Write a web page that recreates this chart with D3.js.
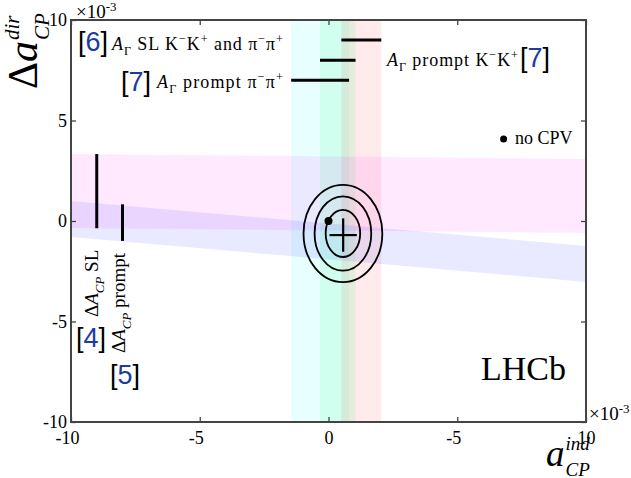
<!DOCTYPE html>
<html>
<head>
<meta charset="utf-8">
<script src="https://cdn.jsdelivr.net/npm/d3@7"></script>
<style>
  body { margin: 0; background: #fff; }
  text { font-family: 'Liberation Serif', 'Times New Roman', serif; fill: #000; }
</style>
</head>
<body>
<script>
// axis ticks (the reference labels +5 as "-5" on the x axis)
var xTicks = [-10, -5, 0, 5, 10];
var xTickLabels = ["-10", "-5", "0", "-5", "10"];
var yTicks = [-10, -5, 0, 5, 10];
var yTickLabels = ["-10", "-5", "0", "5", "10"];

// A_Gamma measurements: vertical bands in a_ind, line drawn at height agY
var agLo = [-1.45, -0.33, 0.50];
var agHi = [0.80, 1.05, 2.05];
var agY = [7, 8, 9];
var agColor = ["#00ffff", "#00ff60", "#ff2020"];
var agAlpha = [0.09, 0.1, 0.09];

// Delta A_CP measurements: bands at x=-10 and x=10 (SL, prompt)
var dLoLeft = [-0.35, -0.79];
var dHiLeft = [3.33, 0.99];
var dLoRight = [-0.60, -3.03];
var dHiRight = [3.08, -1.24];
var dColor = ["#ff00ff", "#4040ff"];
var dAlpha = [0.085, 0.115];
var dLineX = [-9, -8];
var dLineLo = [-0.36, -0.99];
var dLineHi = [3.33, 0.83];

// combined fit: contours and best fit point
var ellCx = 0.56, ellCy = -0.62;
var ellRx = [0.67, 1.10, 1.53];
var ellRy = [1.17, 1.85, 2.42];
var fitX = 0.57, fitY = -0.70, fitEx = 0.53, fitEy = 0.83;
var noCpv = [0, 0];
var legendDot = [6.8, 4.08];

var width = 631, height = 478;
var mLeft = 71, mRight = 586, mTop = 20, mBottom = 422;

var svg = d3.select("body").append("svg")
    .attr("width", width)
    .attr("height", height);

var x = d3.scaleLinear().domain([-10, 10]).range([mLeft, mRight]);
var y = d3.scaleLinear().domain([-10, 10]).range([mBottom, mTop]);

/* sub/superscript helper */
function rich(sel, parts, size) {
    var shift = 0;
    parts.forEach(function (p) {
        var k = p[1] || "";
        var target = 0, fs = size;
        if (k.indexOf("sub") === 0) { target = size * 0.3; fs = size * 0.68; }
        if (k.indexOf("sup") === 0) { target = -size * 0.38; fs = size * 0.68; }
        sel.append("tspan")
            .attr("dy", target - shift)
            .attr("font-size", fs)
            .attr("font-style", k.slice(-1) === "i" ? "italic" : null)
            .text(p[0]);
        shift = target;
    });
    return sel;
}

function refLabel(px, py, num) {
    var t = svg.append("text")
        .attr("x", px).attr("y", py)
        .style("font-family", "'Liberation Sans', Arial, sans-serif")
        .attr("font-size", 27);
    t.append("tspan").text("[");
    t.append("tspan").style("fill", "#1a3d9e").text(num);
    t.append("tspan").text("]");
}

/* vertical bands */
svg.selectAll(".agband")
    .data(agLo)
    .enter().append("rect")
    .attr("class", "agband")
    .attr("x", function (d) { return x(d); })
    .attr("width", function (d, i) { return x(agHi[i]) - x(d); })
    .attr("y", mTop)
    .attr("height", mBottom - mTop)
    .attr("fill", function (d, i) { return agColor[i]; })
    .attr("fill-opacity", function (d, i) { return agAlpha[i]; });

/* horizontal (sloped) bands */
svg.selectAll(".dband")
    .data(dLoLeft)
    .enter().append("polygon")
    .attr("class", "dband")
    .attr("points", function (d, i) {
        return [[x(-10), y(dHiLeft[i])], [x(10), y(dHiRight[i])],
                [x(10), y(dLoRight[i])], [x(-10), y(d)]].join(" ");
    })
    .attr("fill", function (d, i) { return dColor[i]; })
    .attr("fill-opacity", function (d, i) { return dAlpha[i]; });

/* A_Gamma lines */
svg.selectAll(".agline")
    .data(agY)
    .enter().append("line")
    .attr("x1", function (d, i) { return x(agLo[i]); })
    .attr("x2", function (d, i) { return x(agHi[i]); })
    .attr("y1", function (d) { return y(d); })
    .attr("y2", function (d) { return y(d); })
    .attr("stroke", "#000").attr("stroke-width", 3);

/* Delta A_CP lines */
svg.selectAll(".dline")
    .data(dLineX)
    .enter().append("line")
    .attr("x1", function (d) { return x(d); })
    .attr("x2", function (d) { return x(d); })
    .attr("y1", function (d, i) { return y(dLineLo[i]); })
    .attr("y2", function (d, i) { return y(dLineHi[i]); })
    .attr("stroke", "#000").attr("stroke-width", 3);

/* contours */
svg.selectAll(".ell")
    .data(ellRx)
    .enter().append("ellipse")
    .attr("cx", x(ellCx))
    .attr("cy", y(ellCy))
    .attr("rx", function (d) { return x(ellCx + d) - x(ellCx); })
    .attr("ry", function (d, i) { return y(ellCy) - y(ellCy + ellRy[i]); })
    .attr("fill", "none").attr("stroke", "#000").attr("stroke-width", 1.8);

svg.append("line")
    .attr("x1", x(fitX - fitEx)).attr("x2", x(fitX + fitEx))
    .attr("y1", y(fitY)).attr("y2", y(fitY))
    .attr("stroke", "#000").attr("stroke-width", 2.2);
svg.append("line")
    .attr("x1", x(fitX)).attr("x2", x(fitX))
    .attr("y1", y(fitY - fitEy)).attr("y2", y(fitY + fitEy))
    .attr("stroke", "#000").attr("stroke-width", 2.2);

svg.append("circle")
    .attr("cx", x(noCpv[0])).attr("cy", y(noCpv[1])).attr("r", 4).attr("fill", "#000");

/* axes */
var axB = svg.append("g").attr("transform", "translate(0," + mBottom + ")")
    .call(d3.axisBottom(x).tickValues(xTicks).tickSize(-5).tickPadding(9)
        .tickFormat(function (d, i) { return xTickLabels[i]; }));
var axT = svg.append("g").attr("transform", "translate(0," + mTop + ")")
    .call(d3.axisTop(x).tickValues(xTicks).tickSize(-5).tickFormat(""));
var axL = svg.append("g").attr("transform", "translate(" + mLeft + ",0)")
    .call(d3.axisLeft(y).tickValues(yTicks).tickSize(-5).tickPadding(4)
        .tickFormat(function (d, i) { return yTickLabels[i]; }));
var axR = svg.append("g").attr("transform", "translate(" + mRight + ",0)")
    .call(d3.axisRight(y).tickValues(yTicks).tickSize(-5).tickFormat(""));

[axB, axT, axL, axR].forEach(function (a) {
    a.select(".domain").remove();
    a.selectAll(".tick line").attr("stroke", "#444").attr("stroke-width", 1.3);
    a.selectAll(".tick text")
        .style("font-family", "'Liberation Serif', serif")
        .attr("font-size", 18).attr("fill", "#000");
});
axB.selectAll(".tick text")
    .attr("dx", function (d, i) { return xTickLabels[i].charAt(0) === "-" ? -4 : 0; });

svg.append("rect")
    .attr("x", mLeft).attr("y", mTop)
    .attr("width", mRight - mLeft).attr("height", mBottom - mTop)
    .attr("fill", "none").attr("stroke", "#444").attr("stroke-width", 2);

/* x10^-3 */
rich(svg.append("text").attr("x", 76).attr("y", 18), [["\u00d710", ""], ["-3", "sup"]], 19);
rich(svg.append("text").attr("x", 589).attr("y", 420), [["\u00d710", ""], ["-3", "sup"]], 19);

/* axis titles */
function stacked(g, mainParts, sup, sub, size, subSize) {
    var t = rich(g.append("text"), mainParts, size);
    var w = t.node().getComputedTextLength();
    g.append("text").attr("x", w + 1).attr("y", -size * 0.44)
        .attr("font-size", subSize).attr("font-style", "italic").text(sup);
    g.append("text").attr("x", w + 1).attr("y", size * 0.28)
        .attr("font-size", subSize).attr("font-style", "italic").text(sub);
}
stacked(svg.append("g").attr("transform", "translate(546,466)"), [["a", "i"]], "ind", "CP", 37, 19);
stacked(svg.append("g").attr("transform", "translate(37,89) rotate(-90)"), [["\u0394", ""], ["a", "i"]], "dir", "CP", 42, 21);

/* annotations */
refLabel(78, 51, "6");
rich(svg.append("text").attr("x", 112).attr("y", 50)
        .attr("textLength", 171).attr("lengthAdjust", "spacing"),
    [["A", "i"], ["\u0393", "sub"], [" SL K", ""], ["\u2212", "sup"], ["K", ""], ["+", "sup"],
     [" and \u03c0", ""], ["\u2212", "sup"], ["\u03c0", ""], ["+", "sup"]], 18);

refLabel(121, 91, "7");
rich(svg.append("text").attr("x", 157).attr("y", 88)
        .attr("textLength", 126).attr("lengthAdjust", "spacing"),
    [["A", "i"], ["\u0393", "sub"], [" prompt \u03c0", ""], ["\u2212", "sup"], ["\u03c0", ""], ["+", "sup"]], 18);

rich(svg.append("text").attr("x", 387).attr("y", 66)
        .attr("textLength", 131).attr("lengthAdjust", "spacing"),
    [["A", "i"], ["\u0393", "sub"], [" prompt K", ""], ["\u2212", "sup"], ["K", ""], ["+", "sup"]], 18);
refLabel(520, 67, "7");

rich(svg.append("g").attr("transform", "translate(98,317) rotate(-90)").append("text"),
    [["\u0394", ""], ["A", "i"], ["CP", "subi"], [" SL", ""]], 19);
rich(svg.append("g").attr("transform", "translate(125,353) rotate(-90)").append("text"),
    [["\u0394", ""], ["A", "i"], ["CP", "subi"], [" prompt", ""]], 19);
refLabel(76, 347, "4");
refLabel(110, 384, "5");

svg.append("circle")
    .attr("cx", x(legendDot[0])).attr("cy", y(legendDot[1])).attr("r", 3.5).attr("fill", "#000");
svg.append("text").attr("x", 515).attr("y", 144).attr("font-size", 18).text("no CPV");

svg.append("text").attr("x", 481).attr("y", 380).attr("font-size", 34).text("LHCb");
</script>
</body>
</html>
